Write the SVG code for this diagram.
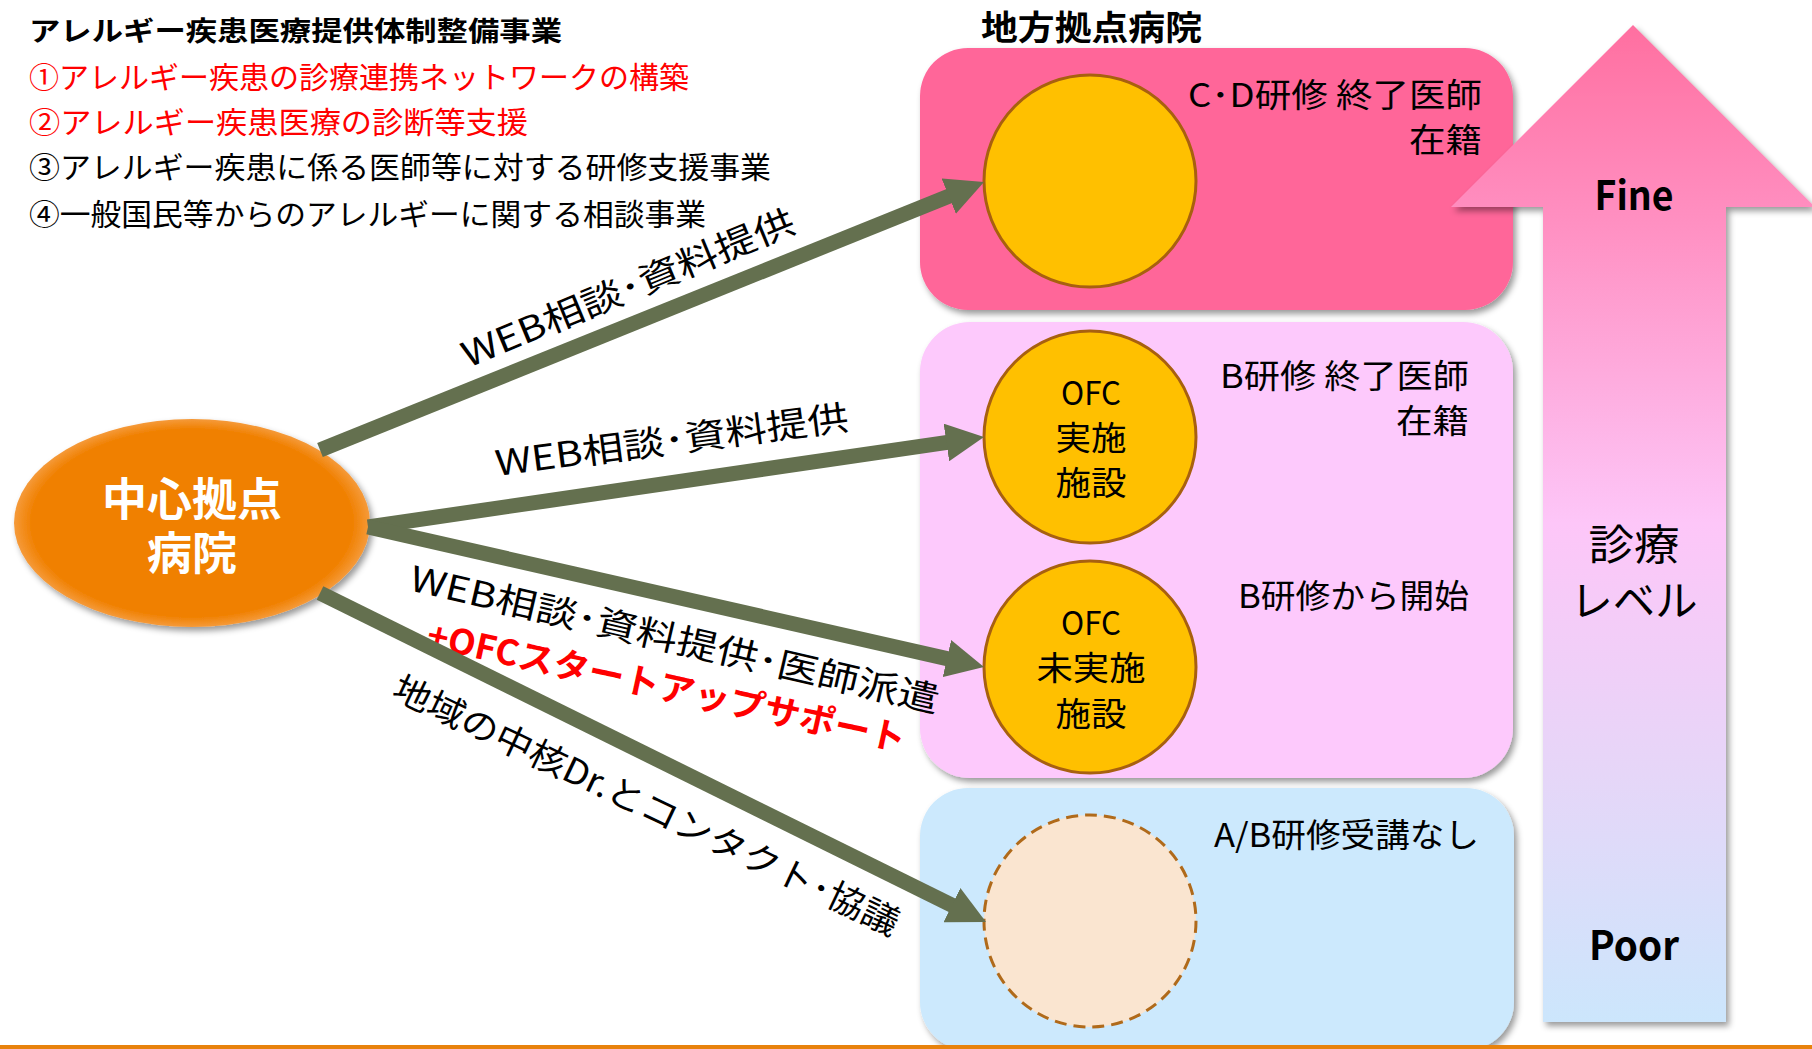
<svg xmlns="http://www.w3.org/2000/svg" width="1812" height="1049" viewBox="0 0 1812 1049">
<defs>
<style>
text{font-family:"Noto Sans CJK JP","Noto Sans",sans-serif;fill:#000}
.b{font-weight:bold}
.red{fill:#FF0000}
.wt{fill:#FFFFFF}
.ln{font-size:30px}
.bx{font-size:33px}
.cc{font-size:33px;text-anchor:middle}
.lb{font-size:35px}
.con{stroke:#64704F;stroke-width:15;fill:none;marker-end:url(#ah)}
.circ{fill:#FFC000;stroke:#A8600F;stroke-width:3}
</style>
<filter id="sh" x="-10%" y="-10%" width="125%" height="125%">
<feDropShadow dx="3" dy="4" stdDeviation="3" flood-color="#000" flood-opacity="0.4"/>
</filter>
<linearGradient id="lvl" gradientUnits="userSpaceOnUse" x1="0" y1="25" x2="0" y2="1022">
<stop offset="0" stop-color="#FF6FA0"/>
<stop offset="0.2" stop-color="#FF90C2"/>
<stop offset="0.5" stop-color="#FDC6F8"/>
<stop offset="0.75" stop-color="#E6D6F8"/>
<stop offset="1" stop-color="#CCE6FC"/>
</linearGradient>
<radialGradient id="org" cx="0.5" cy="0.5" r="0.5">
<stop offset="0" stop-color="#F08000"/>
<stop offset="0.9" stop-color="#F08000"/>
<stop offset="1" stop-color="#F59A3A"/>
</radialGradient>
<marker id="ah" markerUnits="userSpaceOnUse" markerWidth="38" markerHeight="38" viewBox="0 0 38 38" refX="8" refY="19" orient="auto">
<path d="M0,0 L38,19 L0,38 Z" fill="#64704F"/>
</marker>
</defs>

<rect width="1812" height="1049" fill="#FFFFFF"/>

<g id="title">
<text class="b" x="29" y="41" font-size="27" textLength="533" lengthAdjust="spacingAndGlyphs">アレルギー疾患医療提供体制整備事業</text>
<text class="ln red" x="29" y="88" textLength="660" lengthAdjust="spacingAndGlyphs">①アレルギー疾患の診療連携ネットワークの構築</text>
<text class="ln red" x="29" y="133" textLength="499" lengthAdjust="spacingAndGlyphs">②アレルギー疾患医療の診断等支援</text>
<text class="ln" x="29" y="178" textLength="742" lengthAdjust="spacingAndGlyphs">③アレルギー疾患に係る医師等に対する研修支援事業</text>
<text class="ln" x="29" y="225" textLength="677" lengthAdjust="spacingAndGlyphs">④一般国民等からのアレルギーに関する相談事業</text>
</g>

<g id="regional-header">
<text class="b" x="981" y="40" font-size="34" textLength="221" lengthAdjust="spacingAndGlyphs">地方拠点病院</text>
</g>

<g id="box-cd">
<rect x="920" y="48" width="593" height="262" rx="48" fill="#FF6699" filter="url(#sh)"/>
<text class="bx" x="1482" y="107" text-anchor="end" textLength="294" lengthAdjust="spacingAndGlyphs">C･D研修 終了医師</text>
<text class="bx" x="1482" y="152" text-anchor="end" textLength="73" lengthAdjust="spacingAndGlyphs">在籍</text>
</g>

<g id="box-b">
<rect x="920" y="322" width="593" height="456" rx="50" fill="#FDC9FC" filter="url(#sh)"/>
<text class="bx" x="1469" y="388" text-anchor="end" textLength="249" lengthAdjust="spacingAndGlyphs">B研修 終了医師</text>
<text class="bx" x="1469" y="433" text-anchor="end" textLength="73" lengthAdjust="spacingAndGlyphs">在籍</text>
<text class="bx" x="1469" y="608" text-anchor="end" textLength="231" lengthAdjust="spacingAndGlyphs">B研修から開始</text>
</g>

<g id="box-ab">
<rect x="920" y="788" width="594" height="262" rx="48" fill="#CCE9FD" filter="url(#sh)"/>
<text class="bx" x="1479" y="847" text-anchor="end" textLength="265" lengthAdjust="spacingAndGlyphs">A/B研修受講なし</text>
</g>

<g id="level-arrow">
<path d="M1633,25 L1815,207 L1726,207 L1726,1022 L1543,1022 L1543,207 L1451,207 Z" fill="url(#lvl)" filter="url(#sh)"/>
<text class="b" x="1634" y="210" font-size="40" text-anchor="middle" textLength="79" lengthAdjust="spacingAndGlyphs">Fine</text>
<text x="1634" y="560" font-size="42" text-anchor="middle" textLength="91" lengthAdjust="spacingAndGlyphs">診療</text>
<text x="1634" y="616" font-size="42" text-anchor="middle" textLength="127" lengthAdjust="spacingAndGlyphs">レベル</text>
<text class="b" x="1634" y="960" font-size="40" text-anchor="middle" textLength="90" lengthAdjust="spacingAndGlyphs">Poor</text>
</g>

<g id="circle-cd">
<circle class="circ" cx="1090" cy="181" r="106"/>
</g>

<g id="circle-ofc-done">
<circle class="circ" cx="1090" cy="437" r="106"/>
<text class="cc" x="1091" y="405" textLength="60" lengthAdjust="spacingAndGlyphs">OFC</text>
<text class="cc" x="1091" y="450" textLength="71" lengthAdjust="spacingAndGlyphs">実施</text>
<text class="cc" x="1091" y="495" textLength="71" lengthAdjust="spacingAndGlyphs">施設</text>
</g>

<g id="circle-ofc-none">
<circle class="circ" cx="1090" cy="667" r="106"/>
<text class="cc" x="1091" y="635" textLength="60" lengthAdjust="spacingAndGlyphs">OFC</text>
<text class="cc" x="1091" y="680" textLength="109" lengthAdjust="spacingAndGlyphs">未実施</text>
<text class="cc" x="1091" y="726" textLength="71" lengthAdjust="spacingAndGlyphs">施設</text>
</g>

<g id="circle-none">
<circle cx="1090" cy="921" r="106" fill="#FAE5D0" stroke="#B06A1A" stroke-width="3" stroke-dasharray="12 7"/>
</g>

<g id="center-hospital">
<ellipse cx="192" cy="523" rx="178" ry="104" fill="url(#org)" filter="url(#sh)"/>
<text class="b wt" x="192" y="516" font-size="45" text-anchor="middle">中心拠点</text>
<text class="b wt" x="192" y="570" font-size="45" text-anchor="middle">病院</text>
</g>

<g id="connector-labels">
<text class="lb" transform="translate(468,368) rotate(-22.5)" textLength="357" lengthAdjust="spacingAndGlyphs">WEB相談･資料提供</text>
<text class="lb" transform="translate(497,476) rotate(-7.5)" textLength="356" lengthAdjust="spacingAndGlyphs">WEB相談･資料提供</text>
<text class="lb" transform="translate(408,590) rotate(13.1)" textLength="542" lengthAdjust="spacingAndGlyphs">WEB相談･資料提供･医師派遣</text>
<text class="lb b red" transform="translate(425,647) rotate(12.4)" textLength="489" lengthAdjust="spacingAndGlyphs">+OFCスタートアップサポート</text>
<text class="lb" transform="translate(390,697) rotate(25.5)" textLength="556" lengthAdjust="spacingAndGlyphs">地域の中核Dr.とコンタクト･協議</text>
</g>

<g id="connectors">
<line class="con" x1="320" y1="450" x2="956.2" y2="193.2"/>
<line class="con" x1="368" y1="527" x2="954.3" y2="441.3"/>
<line class="con" x1="368" y1="527" x2="954.7" y2="660.4"/>
<line class="con" x1="320" y1="593" x2="959.1" y2="908.7"/>
</g>

<rect id="footer-rule" x="0" y="1045" width="1812" height="4" fill="#E8820C"/>
</svg>
